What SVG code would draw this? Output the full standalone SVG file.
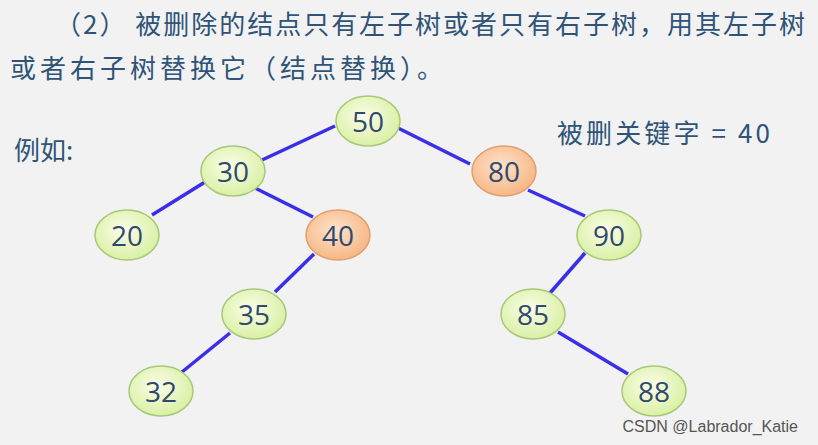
<svg xmlns="http://www.w3.org/2000/svg" width="818" height="445" viewBox="0 0 818 445">
<style>
.t{font-family:"Noto Sans CJK SC","Noto Sans",sans-serif;fill:#2f5478;font-size:26px}
.n{font-family:"Open Sans","Noto Sans",sans-serif;fill:#2f4a6e;font-size:28px;text-anchor:middle;dominant-baseline:central}
.g{fill:url(#gg);stroke:#a8c878;stroke-width:1.5}
.o{fill:url(#og);stroke:#e0a070;stroke-width:1.5}
.e{stroke:#3a2ee8;stroke-width:3.5}
</style>
<defs>
<radialGradient id="gg" cx="0.45" cy="0.4" r="0.65"><stop offset="0" stop-color="#fbfde8"/><stop offset="1" stop-color="#d6ef9e"/></radialGradient>
<radialGradient id="og" cx="0.45" cy="0.4" r="0.65"><stop offset="0" stop-color="#fde4cc"/><stop offset="1" stop-color="#f7b27e"/></radialGradient>
</defs>
<rect width="818" height="445" fill="#f2f2f2"/>
<text class="t" x="55" y="34" textLength="750" lengthAdjust="spacing">（2） 被删除的结点只有左子树或者只有右子树，用其左子树</text>
<text class="t" x="10" y="78" textLength="433" lengthAdjust="spacing">或者右子树替换它（结点替换）。</text>
<text class="t" x="14" y="160">例如:</text>
<text class="t" x="557" y="143" textLength="213" lengthAdjust="spacing">被删关键字 = 40</text>
<text x="798" y="432" text-anchor="end" style="font-family:'Liberation Sans',sans-serif;font-size:16px;fill:#555">CSDN @Labrador_Katie</text>
<g id="edges">
<line class="e" x1="335" y1="126" x2="262" y2="160"/>
<line class="e" x1="398" y1="128" x2="470" y2="164"/>
<line class="e" x1="205" y1="182" x2="152" y2="215"/>
<line class="e" x1="255" y1="188" x2="313" y2="217"/>
<line class="e" x1="528" y1="190" x2="585" y2="216"/>
<line class="e" x1="314" y1="254" x2="275" y2="292"/>
<line class="e" x1="585" y1="253" x2="550" y2="293"/>
<line class="e" x1="230" y1="333" x2="182" y2="372"/>
<line class="e" x1="558" y1="332" x2="628" y2="374"/>
</g>
<g id="n50"><ellipse class="g" cx="368" cy="121" rx="32" ry="25"/><text class="n" x="368" y="121">50</text></g>
<g id="n30"><ellipse class="g" cx="233" cy="171" rx="32" ry="25"/><text class="n" x="233" y="171">30</text></g>
<g id="n80"><ellipse class="o" cx="504" cy="171" rx="32" ry="25"/><text class="n" x="504" y="171">80</text></g>
<g id="n20"><ellipse class="g" cx="127" cy="235" rx="32" ry="25"/><text class="n" x="127" y="235">20</text></g>
<g id="n40"><ellipse class="o" cx="338" cy="235" rx="32" ry="25"/><text class="n" x="338" y="235">40</text></g>
<g id="n90"><ellipse class="g" cx="609" cy="235" rx="32" ry="25"/><text class="n" x="609" y="235">90</text></g>
<g id="n35"><ellipse class="g" cx="254" cy="314" rx="32" ry="25"/><text class="n" x="254" y="314">35</text></g>
<g id="n85"><ellipse class="g" cx="533" cy="314" rx="32" ry="25"/><text class="n" x="533" y="314">85</text></g>
<g id="n32"><ellipse class="g" cx="161" cy="391" rx="32" ry="25"/><text class="n" x="161" y="391">32</text></g>
<g id="n88"><ellipse class="g" cx="654" cy="391" rx="32" ry="25"/><text class="n" x="654" y="391">88</text></g>
</svg>
